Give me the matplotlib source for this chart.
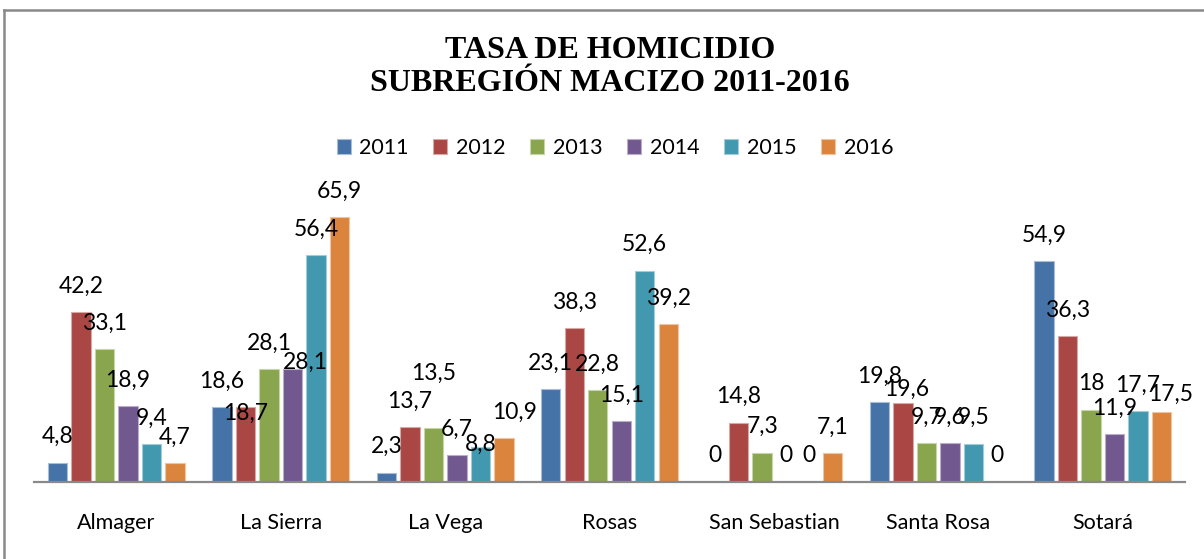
import matplotlib
matplotlib.use("Agg")
import matplotlib.pyplot as plt
from matplotlib.lines import Line2D
import numpy as np

categories = ["Almager", "La Sierra", "La Vega", "Rosas", "San Sebastian", "Santa Rosa", "Sotará"]
years = ["2011", "2012", "2013", "2014", "2015", "2016"]
v2011 = [4.8, 18.6, 2.3, 23.1, 0, 19.8, 54.9]
v2012 = [42.2, 18.7, 13.7, 38.3, 14.8, 19.6, 36.3]
v2013 = [33.1, 28.1, 13.5, 22.8, 7.3, 9.7, 18]
v2014 = [18.9, 28.1, 6.7, 15.1, 0, 9.6, 11.9]
v2015 = [9.4, 56.4, 8.8, 52.6, 0, 9.5, 17.7]
v2016 = [4.7, 65.9, 10.9, 39.2, 7.1, 0, 17.5]
series = [v2011, v2012, v2013, v2014, v2015, v2016]
title = "TASA DE HOMICIDIO\nSUBREGIÓN MACIZO 2011-2016"

colors = ["#4572A7", "#AA4643", "#89A54E", "#71588F", "#4198AF", "#DB843D"]
edges = ["#A9BDD8", "#D8A8A6", "#C7D6A9", "#BBAEC9", "#A3CCD8", "#EEC5A2"]

# manual label nudges (pixels; dy positive = down), keyed (series idx, category idx)
nudges = {(1, 1): (0, 33), (3, 1): (13, 19), (2, 2): (0, -28), (4, 2): (0, 24),
          (5, 2): (11, 0), (1, 5): (4, 12), (5, 6): (9, 9)}

plt.rcParams['font.family'] = ['Lato', 'DejaVu Sans']
W, H = 1204, 559
fig = plt.figure(figsize=(W / 100, H / 100), dpi=100)
ax = fig.add_axes([34 / W, (H - 482) / H, 1151 / W, 281.4 / H])

x = np.arange(len(categories))
pitch = 0.143
bw = 0.118
for i, (vals, c, e, yr) in enumerate(zip(series, colors, edges, years)):
    xs = x + (i - 2.5) * pitch
    ax.bar(xs, vals, width=bw, color=c, edgecolor=e, linewidth=0.8, label=yr, zorder=2)
    for j, (xx, v) in enumerate(zip(xs, vals)):
        dx, dy = nudges.get((i, j), (0, 0))
        txt = ("%g" % v).replace(".", ",")
        ax.annotate(txt, (xx, v), xytext=(dx, 26 - dy), textcoords="offset pixels",
                    ha="center", va="center", fontsize=16.5, color="black",
                    annotation_clip=False, zorder=3)

ax.set_xlim(-0.5, len(categories) - 0.5)
ax.set_ylim(0, 70)
ax.set_yticks([])
ax.set_xticks(x)
ax.set_xticklabels(categories, fontsize=15.5)
ax.tick_params(axis="x", length=0, pad=22)
for s in ["top", "right", "left"]:
    ax.spines[s].set_visible(False)
ax.spines["bottom"].set_color("#898989")
ax.spines["bottom"].set_linewidth(1.6)
ax.patch.set_visible(False)

fig.text(610 / W, 1 - 67 / H, title, ha="center", va="center", fontsize=23,
         fontweight="bold", family="Liberation Serif", linespacing=1.2)

leg = fig.legend(loc="center", bbox_to_anchor=(615 / W, 1 - 148 / H), ncol=6,
                 frameon=False, fontsize=15.5, handlelength=0.65, handleheight=0.65,
                 handletextpad=0.4, columnspacing=1.15, borderpad=0)

fig.add_artist(Line2D([4 / W, 1], [1 - 10 / H, 1 - 10 / H], color="#898989", lw=1.8,
                      transform=fig.transFigure))
fig.add_artist(Line2D([4 / W, 4 / W], [0, 1 - 10 / H], color="#898989", lw=1.8,
                      transform=fig.transFigure))

fig.savefig("out.png", dpi=100)
